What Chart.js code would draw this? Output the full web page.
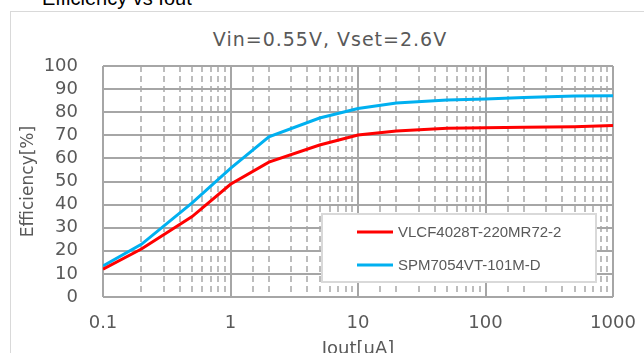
<!DOCTYPE html>
<html>
<head>
<meta charset="utf-8">
<script src="https://cdn.jsdelivr.net/npm/chart.js@4.4.1/dist/chart.umd.min.js"></script>
<style>
  html, body { margin: 0; padding: 0; background: #fff; overflow: hidden; }
  #wrap { position: relative; width: 644px; height: 370px; }
  #frame { position: absolute; left: 10px; top: 11px; width: 700px; height: 400px; border: 1px solid #d9d9d9; box-sizing: border-box; }
  #head { position: absolute; left: 42px; top: -12px; font: 20px "Liberation Sans", Arial, sans-serif; line-height: 20px; color: #000; white-space: nowrap; }
  #sub { position: absolute; left: 0; width: 660px; top: 28px; text-align: center; font: 19px "DejaVu Sans", sans-serif; letter-spacing: 1px; color: #595959; white-space: nowrap; }
  canvas { position: absolute; left: 0; top: 0; }
</style>
</head>
<body>
<div id="wrap">
  <div id="frame"></div>
  <div id="head">Efficiency vs Iout</div>
  <div id="sub">Vin=0.55V, Vset=2.6V</div>
  <canvas id="c" width="644" height="370"></canvas>
</div>
<script>
// Iout [uA]
const iout = [0.1, 0.2, 0.5, 1, 2, 5, 10, 20, 50, 100, 200, 500, 1000];
// efficiency [%]
const vlcf = [12, 20.8, 34.8, 48.8, 58.4, 65.8, 70.1, 71.9, 73, 73.3, 73.5, 73.7, 74.2];
const spm = [13.4, 22.8, 40.7, 55.7, 69.3, 77.5, 81.6, 84, 85.3, 85.7, 86.4, 87, 87.1];
const seriesNames = ['VLCF4028T-220MR72-2', 'SPM7054VT-101M-D'];
const seriesColors = ['#ff0000', '#00b0f0'];

const txt = '#595959';
const tickFont = { family: 'DejaVu Sans', size: 18 };

// legend box drawn inside the plot, bottom right
const boxLegend = {
    id: 'boxLegend',
    afterDraw(chart) {
        const { ctx, chartArea } = chart;
        const x0 = chartArea.right - 291, y0 = chartArea.bottom - 83;
        const w = 274, h = 68;
        ctx.save();
        ctx.fillStyle = '#fff';
        ctx.fillRect(x0, y0, w, h);
        ctx.strokeStyle = '#d9d9d9';
        ctx.lineWidth = 2;
        ctx.strokeRect(x0, y0, w, h);
        ctx.font = '15px "Liberation Sans", Arial, sans-serif';
        ctx.textBaseline = 'middle';
        chart.data.datasets.forEach((ds, i) => {
            const y = y0 + 18 + i * 33;
            ctx.strokeStyle = ds.borderColor;
            ctx.lineWidth = 3;
            ctx.beginPath();
            ctx.moveTo(x0 + 35, y);
            ctx.lineTo(x0 + 71, y);
            ctx.stroke();
            ctx.fillStyle = txt;
            ctx.fillText(ds.label, x0 + 76, y + 1);
        });
        ctx.restore();
    }
};

new Chart(document.getElementById('c'), {
    type: 'line',
    data: {
        datasets: [
            {
                label: seriesNames[0],
                data: iout.map((v, i) => ({ x: v, y: vlcf[i] })),
                borderColor: seriesColors[0],
                borderWidth: 3,
                pointRadius: 0,
                tension: 0
            },
            {
                label: seriesNames[1],
                data: iout.map((v, i) => ({ x: v, y: spm[i] })),
                borderColor: seriesColors[1],
                borderWidth: 3,
                pointRadius: 0,
                tension: 0
            }
        ]
    },
    options: {
        responsive: false,
        animation: false,
        layout: { padding: { left: 0, top: 66, right: 31, bottom: 0 } },
        plugins: {
            legend: { display: false },
            tooltip: { enabled: false }
        },
        scales: {
            x: {
                type: 'logarithmic',
                min: 0.1,
                max: 1000,
                afterFit: s => { s.height = 73; },
                grid: {
                    drawTicks: true,
                    tickLength: 14,
                    tickColor: 'rgba(0,0,0,0)',
                    color: c => (c.tick && c.tick.major) ? '#a6a6a6' : '#bdbdbd',
                    lineWidth: 2
                },
                border: {
                    display: false,
                    dash: c => (c.tick && !c.tick.major) ? [6, 4] : []
                },
                ticks: {
                    autoSkip: false,
                    maxRotation: 0,
                    padding: 2,
                    color: txt,
                    font: tickFont,
                    callback: v => {
                        const l = Math.log10(v);
                        return Math.abs(l - Math.round(l)) < 1e-9 ? String(v) : '';
                    }
                },
                title: {
                    display: true,
                    text: 'Iout[uA]',
                    color: txt,
                    font: { family: 'DejaVu Sans', size: 18 },
                    padding: { top: 0, bottom: 10 }
                }
            },
            y: {
                min: 0,
                max: 100,
                afterFit: s => { s.width = 103; },
                grid: { drawTicks: false, color: '#a6a6a6', lineWidth: 2 },
                border: { display: false },
                ticks: {
                    stepSize: 10,
                    autoSkip: false,
                    padding: 25,
                    color: txt,
                    font: tickFont
                },
                title: {
                    display: true,
                    text: 'Efficiency[%]',
                    color: txt,
                    font: { family: 'DejaVu Sans', size: 17 },
                    padding: { top: 18, bottom: 0 }
                }
            }
        }
    },
    plugins: [boxLegend]
});
</script>
</body>
</html>
